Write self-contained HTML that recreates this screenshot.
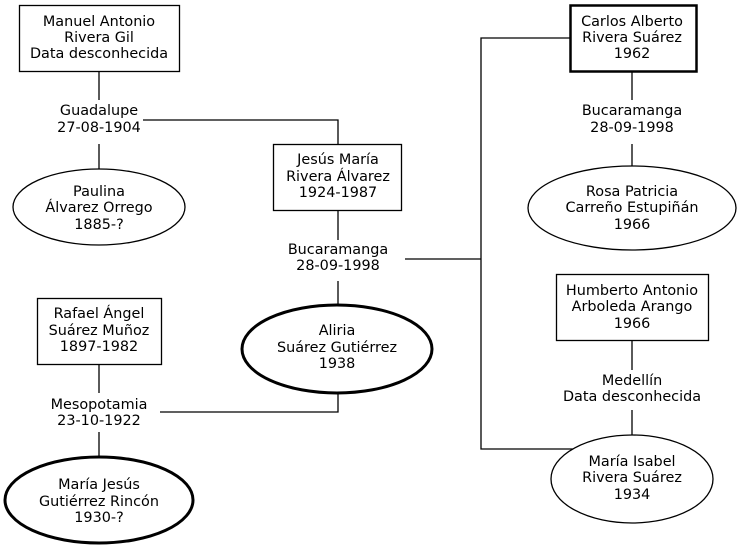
<!DOCTYPE html>
<html><head><meta charset="utf-8"><style>
body{margin:0;background:#fff}
svg text{font-family:"DejaVu Sans","Liberation Sans",sans-serif;font-size:14.4px;fill:#000;text-anchor:middle}
</style></head><body>
<svg width="741" height="549" viewBox="0 0 741 549" xmlns="http://www.w3.org/2000/svg">
<g stroke="#000" stroke-width="1.3" fill="none">
<line x1="99" y1="72" x2="99" y2="100"/><line x1="99" y1="144" x2="99" y2="170"/>
<polyline points="143,120 338,120 338,145"/>
<line x1="338" y1="210" x2="338" y2="240"/><line x1="338" y1="281" x2="338" y2="305"/>
<line x1="405" y1="259" x2="481" y2="259"/>
<polyline points="570,38 481,38 481,449 575,449"/>
<line x1="99" y1="365" x2="99" y2="393"/><line x1="99" y1="432" x2="99" y2="456"/>
<polyline points="160,412 338,412 338,391"/>
<line x1="632" y1="72" x2="632" y2="100"/><line x1="632" y1="144" x2="632" y2="166"/>
<line x1="632" y1="340" x2="632" y2="370"/><line x1="632" y1="410" x2="632" y2="436"/>
<rect x="19.5" y="5.5" width="160" height="66" fill="#fff"/>
<ellipse cx="99" cy="207" rx="86" ry="38" fill="#fff"/>
<rect x="273.5" y="144.5" width="128" height="66" fill="#fff"/>
<rect x="37.5" y="298.5" width="124" height="66" fill="#fff"/>
<ellipse cx="337" cy="349" rx="95" ry="44" fill="#fff" stroke-width="3"/>
<ellipse cx="99" cy="500" rx="94" ry="43" fill="#fff" stroke-width="3"/>
<rect x="570.5" y="5.5" width="126" height="66" fill="#fff" stroke-width="2.5"/>
<ellipse cx="632" cy="208" rx="104" ry="42" fill="#fff"/>
<rect x="556.5" y="274.5" width="152" height="66" fill="#fff"/>
<ellipse cx="632" cy="479" rx="81" ry="44" fill="#fff"/>
</g>
<text x="99" y="26">Manuel Antonio</text><text x="99" y="42">Rivera Gil</text><text x="99" y="58">Data desconhecida</text>
<text x="99" y="115">Guadalupe</text><text x="99" y="132">27-08-1904</text>
<text x="99" y="196">Paulina</text><text x="99" y="212">Álvarez Orrego</text><text x="99" y="229">1885-?</text>
<text x="338" y="164">Jesús María</text><text x="338" y="181">Rivera Álvarez</text><text x="338" y="197">1924-1987</text>
<text x="338" y="254">Bucaramanga</text><text x="338" y="270">28-09-1998</text>
<text x="99" y="318">Rafael Ángel</text><text x="99" y="335">Suárez Muñoz</text><text x="99" y="351">1897-1982</text>
<text x="337" y="335">Aliria</text><text x="337" y="352">Suárez Gutiérrez</text><text x="337" y="368">1938</text>
<text x="99" y="409">Mesopotamia</text><text x="99" y="425">23-10-1922</text>
<text x="99" y="489">María Jesús</text><text x="99" y="506">Gutiérrez Rincón</text><text x="99" y="522">1930-?</text>
<text x="632" y="26">Carlos Alberto</text><text x="632" y="42">Rivera Suárez</text><text x="632" y="58">1962</text>
<text x="632" y="115">Bucaramanga</text><text x="632" y="132">28-09-1998</text>
<text x="632" y="196">Rosa Patricia</text><text x="632" y="212">Carreño Estupiñán</text><text x="632" y="229">1966</text>
<text x="632" y="295">Humberto Antonio</text><text x="632" y="311">Arboleda Arango</text><text x="632" y="328">1966</text>
<text x="632" y="385">Medellín</text><text x="632" y="401">Data desconhecida</text>
<text x="632" y="466">María Isabel</text><text x="632" y="482">Rivera Suárez</text><text x="632" y="499">1934</text>
</svg>
</body></html>
